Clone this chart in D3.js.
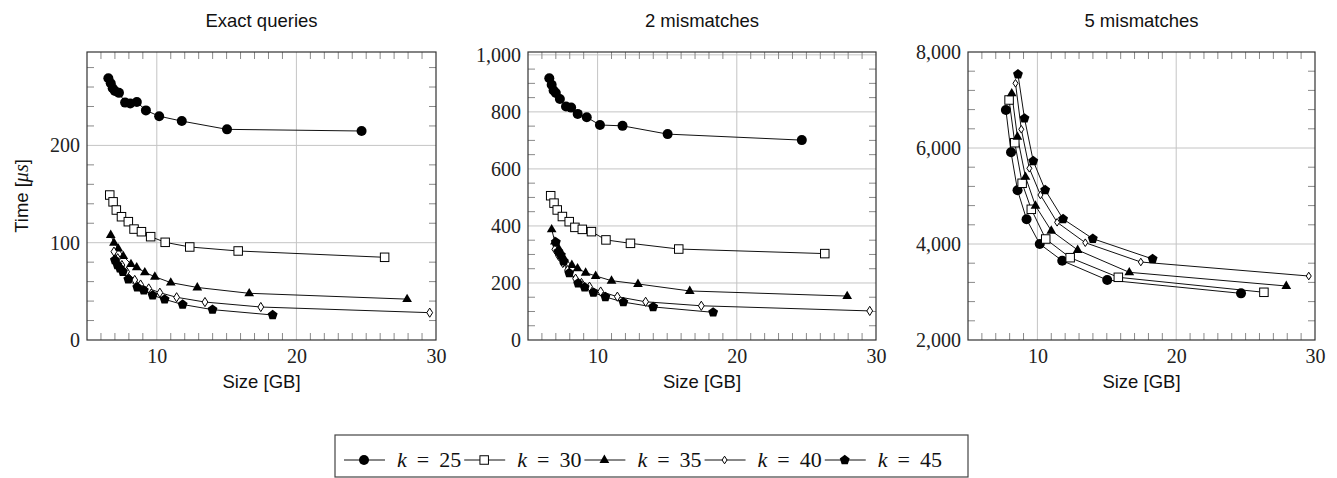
<!DOCTYPE html>
<html>
<head>
<meta charset="utf-8">
<script src="https://cdn.jsdelivr.net/npm/d3@7"></script>
<style>
  html, body { margin: 0; padding: 0; background: #fff; }
  svg { display: block; }
</style>
</head>
<body>
<svg id="chart" width="1337" height="478"></svg>
<script>
// ---------- data ----------
const kLabels = ["25", "30", "35", "40", "45"];

// index sizes [GB] per k
const sizes25 = [6.53, 6.70, 6.84, 7.00, 7.29, 7.73, 8.10, 8.57, 9.22, 10.17, 11.79, 15.03, 24.67];
const sizes30 = [6.63, 6.87, 7.10, 7.47, 7.96, 8.37, 8.90, 9.56, 10.60, 12.36, 15.83, 26.32];
const sizes35 = [6.70, 6.93, 7.24, 7.60, 8.15, 8.56, 9.14, 9.86, 11.00, 12.90, 16.62, 27.93];
const sizes40 = [6.93, 7.20, 7.50, 7.84, 8.42, 8.84, 9.42, 10.22, 11.42, 13.45, 17.45, 29.55];
const sizes45 = [7.00, 7.18, 7.36, 7.57, 7.96, 8.60, 9.07, 9.70, 10.56, 11.85, 13.99, 18.30];

// Exact queries, time [us]
const exact25 = [269, 263.8, 258.7, 256, 254, 244, 243, 244.6, 236, 230, 225, 216.5, 214.8];
const exact30 = [149, 142, 133.6, 126.7, 121.6, 114, 111.3, 106.2, 100.4, 95.6, 91.5, 85];
const exact35 = [107.9, 100, 94, 86.3, 78, 74.7, 69.6, 65, 59, 54, 48, 42];
const exact40 = [90.8, 84, 77, 70.2, 61.7, 57, 53, 48.6, 43.9, 39, 33.9, 28.1];
const exact45 = [82.2, 77, 73.7, 70.2, 62.4, 54.2, 51, 46, 41.8, 36.5, 31.2, 25.7];

// 2 mismatches, time [us]
const mm2_25 = [918, 895, 875, 866, 845, 819, 815, 793, 781, 754, 751, 722, 701];
const mm2_30 = [506, 480, 456, 433, 415, 395, 388, 380, 351, 339, 319, 303];
const mm2_35 = [388, 345, 318, 285, 263, 251.5, 236, 224.6, 208, 196.5, 172, 154];
const mm2_40 = [318, 295, 270, 245, 215, 200, 187, 170, 152, 134, 120, 102];
const mm2_45 = [343, 310, 298, 276, 235, 199, 185, 166, 151, 133, 116, 97];

// 5 mismatches, time [us] (only the larger indexes; aligned with the last sizes)
const mm5_25 = [6792, 5910, 5118, 4514, 4000, 3652, 3250, 2972];
const mm5_30 = [7000, 6110, 5265, 4723, 4104, 3715, 3306, 2994];
const mm5_35 = [7140, 6235, 5400, 4798, 4277, 3875, 3410, 3125];
const mm5_40 = [7348, 6390, 5577, 5021, 4452, 4027, 3625, 3333];
const mm5_45 = [7535, 6618, 5729, 5125, 4521, 4111, 3688];

const panelTitles = ["Exact queries", "2 mismatches", "5 mismatches"];
const xTicks = [10, 20, 30];
const yTicks1 = [0, 100, 200];
const yTicks2 = [0, 200, 400, 600, 800, 1000];
const yTicks3 = [2000, 4000, 6000, 8000];

// ---------- layout ----------
const sizeSets = [sizes25, sizes30, sizes35, sizes40, sizes45];
const markers = ["circle", "square", "triangle", "diamond", "pentagon"];

const panels = [
  { title: panelTitles[0], left: 87, right: 436, yDomain: [0, 296], yTicks: yTicks1, minor: 20,
    series: [exact25, exact30, exact35, exact40, exact45] },
  { title: panelTitles[1], left: 528, right: 876, yDomain: [0, 1010], yTicks: yTicks2, minor: 50,
    series: [mm2_25, mm2_30, mm2_35, mm2_40, mm2_45] },
  { title: panelTitles[2], left: 968, right: 1315, yDomain: [2000, 8000], yTicks: yTicks3, minor: 400,
    series: [mm5_25, mm5_30, mm5_35, mm5_40, mm5_45] }
];
const plotTop = 52, plotBottom = 340;

const svg = d3.select("#chart");
const serif = "'Liberation Serif', 'Times New Roman', serif";
const sans = "'Liberation Sans', Arial, sans-serif";

function drawMarker(g, type, x, y, small) {
  if (type === "circle") {
    g.append("circle").attr("cx", x).attr("cy", y).attr("r", 5).attr("fill", "#000");
  } else if (type === "square") {
    const s = 8.5;
    g.append("rect").attr("x", x - s / 2).attr("y", y - s / 2).attr("width", s).attr("height", s)
      .attr("fill", "#fff").attr("stroke", "#000").attr("stroke-width", 1);
  } else if (type === "triangle") {
    const r = 5.4;
    const pts = [[x, y - r], [x + r * 0.9, y + r * 0.55], [x - r * 0.9, y + r * 0.55]];
    g.append("path").attr("d", "M" + pts.map(p => p.join(",")).join("L") + "Z").attr("fill", "#000");
  } else if (type === "diamond") {
    const w = small ? 2.5 : 2.9, h = small ? 3.8 : 4.6;
    g.append("path").attr("d", `M${x},${y - h}L${x + w},${y}L${x},${y + h}L${x - w},${y}Z`)
      .attr("fill", "#fff").attr("stroke", "#000").attr("stroke-width", 1);
  } else if (type === "pentagon") {
    const r = 5.2;
    const pts = d3.range(5).map(i => {
      const a = -Math.PI / 2 + i * 2 * Math.PI / 5;
      return [x + r * Math.cos(a), y + r * Math.sin(a)];
    });
    g.append("path").attr("d", "M" + pts.map(p => p.join(",")).join("L") + "Z").attr("fill", "#000");
  }
}

panels.forEach((p, pi) => {
  const x = d3.scaleLinear().domain([5, 30]).range([p.left, p.right]);
  const y = d3.scaleLinear().domain(p.yDomain).range([plotBottom, plotTop]);
  const g = svg.append("g");

  // grid
  g.selectAll(".gx").data(xTicks.filter(t => t > 5 && t < 30)).enter().append("line")
    .attr("x1", d => x(d)).attr("x2", d => x(d)).attr("y1", plotTop).attr("y2", plotBottom)
    .attr("stroke", "#c4c4c4").attr("stroke-width", 1);
  g.selectAll(".gy").data(p.yTicks.filter(t => t > p.yDomain[0] && t < p.yDomain[1])).enter().append("line")
    .attr("y1", d => y(d)).attr("y2", d => y(d)).attr("x1", p.left).attr("x2", p.right)
    .attr("stroke", "#c4c4c4").attr("stroke-width", 1);

  // minor ticks
  const tickLen = 7;
  const xMinor = d3.range(6, 30, 1).filter(t => !xTicks.includes(t));
  xMinor.forEach(t => {
    g.append("line").attr("x1", x(t)).attr("x2", x(t)).attr("y1", plotBottom).attr("y2", plotBottom - tickLen)
      .attr("stroke", "#8a8a8a").attr("stroke-width", 1);
    g.append("line").attr("x1", x(t)).attr("x2", x(t)).attr("y1", plotTop).attr("y2", plotTop + tickLen)
      .attr("stroke", "#8a8a8a").attr("stroke-width", 1);
  });
  const yMinor = d3.range(p.yDomain[0] + p.minor, p.yDomain[1], p.minor).filter(t => !p.yTicks.includes(t));
  yMinor.forEach(t => {
    g.append("line").attr("y1", y(t)).attr("y2", y(t)).attr("x1", p.left).attr("x2", p.left + tickLen)
      .attr("stroke", "#8a8a8a").attr("stroke-width", 1);
    g.append("line").attr("y1", y(t)).attr("y2", y(t)).attr("x1", p.right).attr("x2", p.right - tickLen)
      .attr("stroke", "#8a8a8a").attr("stroke-width", 1);
  });

  // frame
  g.append("rect").attr("x", p.left).attr("y", plotTop).attr("width", p.right - p.left).attr("height", plotBottom - plotTop)
    .attr("fill", "none").attr("stroke", "#333").attr("stroke-width", 1.2);

  // axes labels via d3 axes (no domain lines / tick lines)
  const xAxis = d3.axisBottom(x).tickValues(xTicks).tickSize(0).tickPadding(9).tickFormat(d3.format("d"));
  const xg = g.append("g").attr("transform", `translate(0,${plotBottom})`).call(xAxis);
  xg.select(".domain").remove();
  xg.selectAll("text").attr("font-family", serif).attr("font-size", 20).attr("fill", "#222");

  const yAxis = d3.axisLeft(y).tickValues(p.yTicks).tickSize(0).tickPadding(7).tickFormat(d3.format(","));
  const yg = g.append("g").attr("transform", `translate(${p.left},0)`).call(yAxis);
  yg.select(".domain").remove();
  yg.selectAll("text").attr("font-family", serif).attr("font-size", 20).attr("fill", "#222");

  // title
  g.append("text").attr("x", (p.left + p.right) / 2).attr("y", 27).attr("text-anchor", "middle")
    .attr("font-family", sans).attr("font-size", 18.5).attr("fill", "#111").text(p.title);
  // x label
  g.append("text").attr("x", (p.left + p.right) / 2).attr("y", 388).attr("text-anchor", "middle")
    .attr("font-family", sans).attr("font-size", 18.5).attr("fill", "#111").text("Size [GB]");

  // series
  const line = d3.line().x(d => x(d[0])).y(d => y(d[1]));
  p.series.forEach((vals, si) => {
    const xs = sizeSets[si].slice(sizeSets[si].length - vals.length);
    const pts = vals.map((v, i) => [xs[i], v]);
    g.append("path").attr("d", line(pts)).attr("fill", "none").attr("stroke", "#111").attr("stroke-width", 1);
  });
  p.series.forEach((vals, si) => {
    const xs = sizeSets[si].slice(sizeSets[si].length - vals.length);
    vals.forEach((v, i) => drawMarker(g, markers[si], x(xs[i]), y(v), pi === 2));
  });
});

// y label
const yl = svg.append("text").attr("transform", "translate(28,196) rotate(-90)").attr("text-anchor", "middle")
  .attr("font-family", sans).attr("font-size", 18.5).attr("fill", "#111");
yl.append("tspan").text("Time [");
yl.append("tspan").attr("font-family", serif).attr("font-style", "italic").attr("font-size", 20).text("μs");
yl.append("tspan").text("]");

// legend
const leg = svg.append("g");
leg.append("rect").attr("x", 335).attr("y", 435).attr("width", 633).attr("height", 42)
  .attr("fill", "#fff").attr("stroke", "#444").attr("stroke-width", 1.2);
let cx = 344;
const ly = 460;
kLabels.forEach((k, i) => {
  leg.append("line").attr("x1", cx).attr("x2", cx + 41).attr("y1", ly).attr("y2", ly)
    .attr("stroke", "#111").attr("stroke-width", 1);
  drawMarker(leg, markers[i], cx + 20, ly, true);
  cx += 53;
  const t = leg.append("text").attr("x", cx).attr("y", ly + 7).attr("font-family", serif).attr("font-size", 22).attr("fill", "#111");
  t.append("tspan").attr("font-style", "italic").text("k");
  t.append("tspan").attr("dx", 10).text("=");
  t.append("tspan").attr("dx", 10).text(k);
  cx += t.node().getComputedTextLength() + 20 + 3;
});
</script>
</body>
</html>
